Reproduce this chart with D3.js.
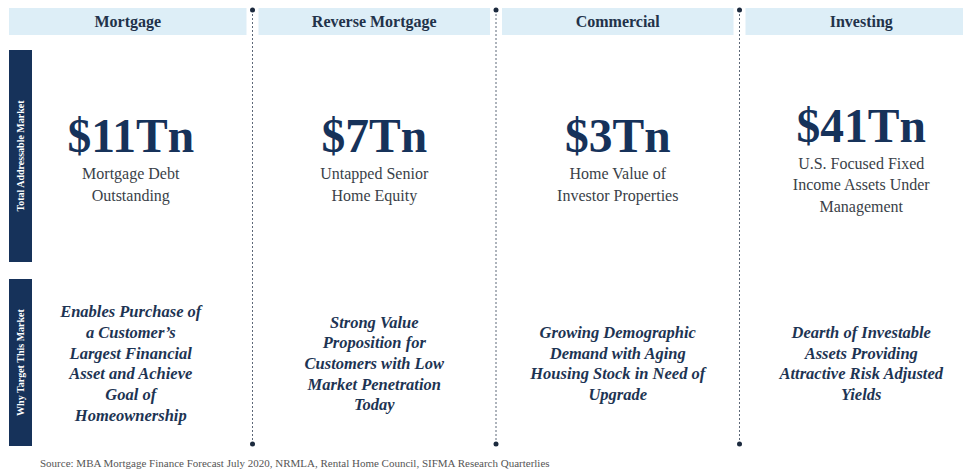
<!DOCTYPE html>
<html>
<head>
<meta charset="utf-8">
<script src="https://cdn.jsdelivr.net/npm/d3@7"></script>
<style>
  body { margin: 0; background: #fff; }
  svg { display: block; }
  svg text { font-family: "Liberation Serif", "Times New Roman", Times, "DejaVu Serif", serif; }
</style>
</head>
<body>
<script>
// Données du graphique
const categories = ["Mortgage", "Reverse Mortgage", "Commercial", "Investing"];
const values = ["$11Tn", "$7Tn", "$3Tn", "$41Tn"];
const descriptions = [
    ["Mortgage Debt", "Outstanding"],
    ["Untapped Senior", "Home Equity"],
    ["Home Value of", "Investor Properties"],
    ["U.S. Focused Fixed", "Income Assets Under", "Management"]
];
const reasons = [
    ["Enables Purchase of", "a Customer\u2019s", "Largest Financial", "Asset and Achieve", "Goal of", "Homeownership"],
    ["Strong Value", "Proposition for", "Customers with Low", "Market Penetration", "Today"],
    ["Growing Demographic", "Demand with Aging", "Housing Stock in Need of", "Upgrade"],
    ["Dearth of Investable", "Assets Providing", "Attractive Risk Adjusted", "Yields"]
];
const rowLabels = ["Total Addressable Market", "Why Target This Market"];
const source = "Source: MBA Mortgage Finance Forecast July 2020, NRMLA, Rental Home Council, SIFMA Research Quarterlies";

const width = 963, height = 470;
const navy = "#16325a";

const svg = d3.select("body")
    .append("svg")
    .attr("width", width)
    .attr("height", height);

// Colonnes
const x = d3.scaleBand()
    .domain(categories)
    .range([9, 983]);
const step = x.step();

// Lignes (bandeaux de gauche)
const rows = d3.scaleOrdinal()
    .domain(rowLabels)
    .range([[50, 262], [279, 446]]);

// En-têtes
const headers = svg.append("g");
headers.selectAll("rect")
    .data(categories)
    .join("rect")
    .attr("x", (d, i) => x(d) + (i ? 6 : 0))
    .attr("y", 8)
    .attr("width", (d, i) => step - 6 - (i ? 6 : 0))
    .attr("height", 27)
    .attr("fill", "#ddeef7");

headers.selectAll("text")
    .data(categories)
    .join("text")
    .attr("x", (d, i) => x(d) + (i ? 6 : 0) + (step - 6 - (i ? 6 : 0)) / 2)
    .attr("y", 27)
    .attr("text-anchor", "middle")
    .attr("font-weight", "bold")
    .attr("font-size", 16)
    .attr("fill", "#22324a")
    .text(d => d);

// Séparateurs pointillés
const dividers = svg.append("g");
dividers.selectAll("line")
    .data(categories.slice(1))
    .join("line")
    .attr("x1", d => x(d))
    .attr("x2", d => x(d))
    .attr("y1", 10)
    .attr("y2", 444)
    .attr("stroke", "#5d6878")
    .attr("stroke-width", 1)
    .attr("stroke-dasharray", "2,2");

[10, 444].forEach(yy => {
    dividers.append("g").selectAll("circle")
        .data(categories.slice(1))
        .join("circle")
        .attr("cx", d => x(d))
        .attr("cy", yy)
        .attr("r", 2.5)
        .attr("fill", "#1c2a3e");
});

// Bandeaux de gauche
const side = svg.append("g");
side.selectAll("rect")
    .data(rowLabels)
    .join("rect")
    .attr("x", 9)
    .attr("y", d => rows(d)[0])
    .attr("width", 23)
    .attr("height", d => rows(d)[1] - rows(d)[0])
    .attr("fill", navy);

side.selectAll("text")
    .data(rowLabels)
    .join("text")
    .attr("transform", d => `translate(24,${(rows(d)[0] + rows(d)[1]) / 2}) rotate(-90)`)
    .attr("text-anchor", "middle")
    .attr("font-weight", "bold")
    .attr("font-size", 10)
    .attr("fill", "#fff")
    .text(d => d);

// Valeurs du marché
const cols = svg.append("g").selectAll("g")
    .data(categories)
    .join("g")
    .attr("transform", d => `translate(${x(d) + step / 2},0)`);

const valueY = i => 152 - (descriptions[i].length - 2) * 10.5;

cols.append("text")
    .attr("y", (d, i) => valueY(i))
    .attr("text-anchor", "middle")
    .attr("font-weight", "bold")
    .attr("font-size", 47.5)
    .attr("fill", navy)
    .text((d, i) => values[i]);

cols.each(function (d, i) {
    d3.select(this).append("g")
        .selectAll("text")
        .data(descriptions[i])
        .join("text")
        .attr("y", (t, j) => valueY(i) + 27 + j * 21.5)
        .attr("text-anchor", "middle")
        .attr("font-size", 16)
        .attr("fill", "#3a3f48")
        .text(t => t);

    // Pourquoi ce marché
    const n = reasons[i].length;
    d3.select(this).append("g")
        .selectAll("text")
        .data(reasons[i])
        .join("text")
        .attr("y", (t, j) => 363.5 + (j - (n - 1) / 2) * 20.7 + 5.5)
        .attr("text-anchor", "middle")
        .attr("font-weight", "bold")
        .attr("font-style", "italic")
        .attr("font-size", 16.5)
        .attr("fill", "#1d3453")
        .text(t => t);
});

// Source
svg.append("text")
    .attr("x", 40)
    .attr("y", 467)
    .attr("font-size", 11)
    .attr("fill", "#555")
    .text(source);
</script>
</body>
</html>
